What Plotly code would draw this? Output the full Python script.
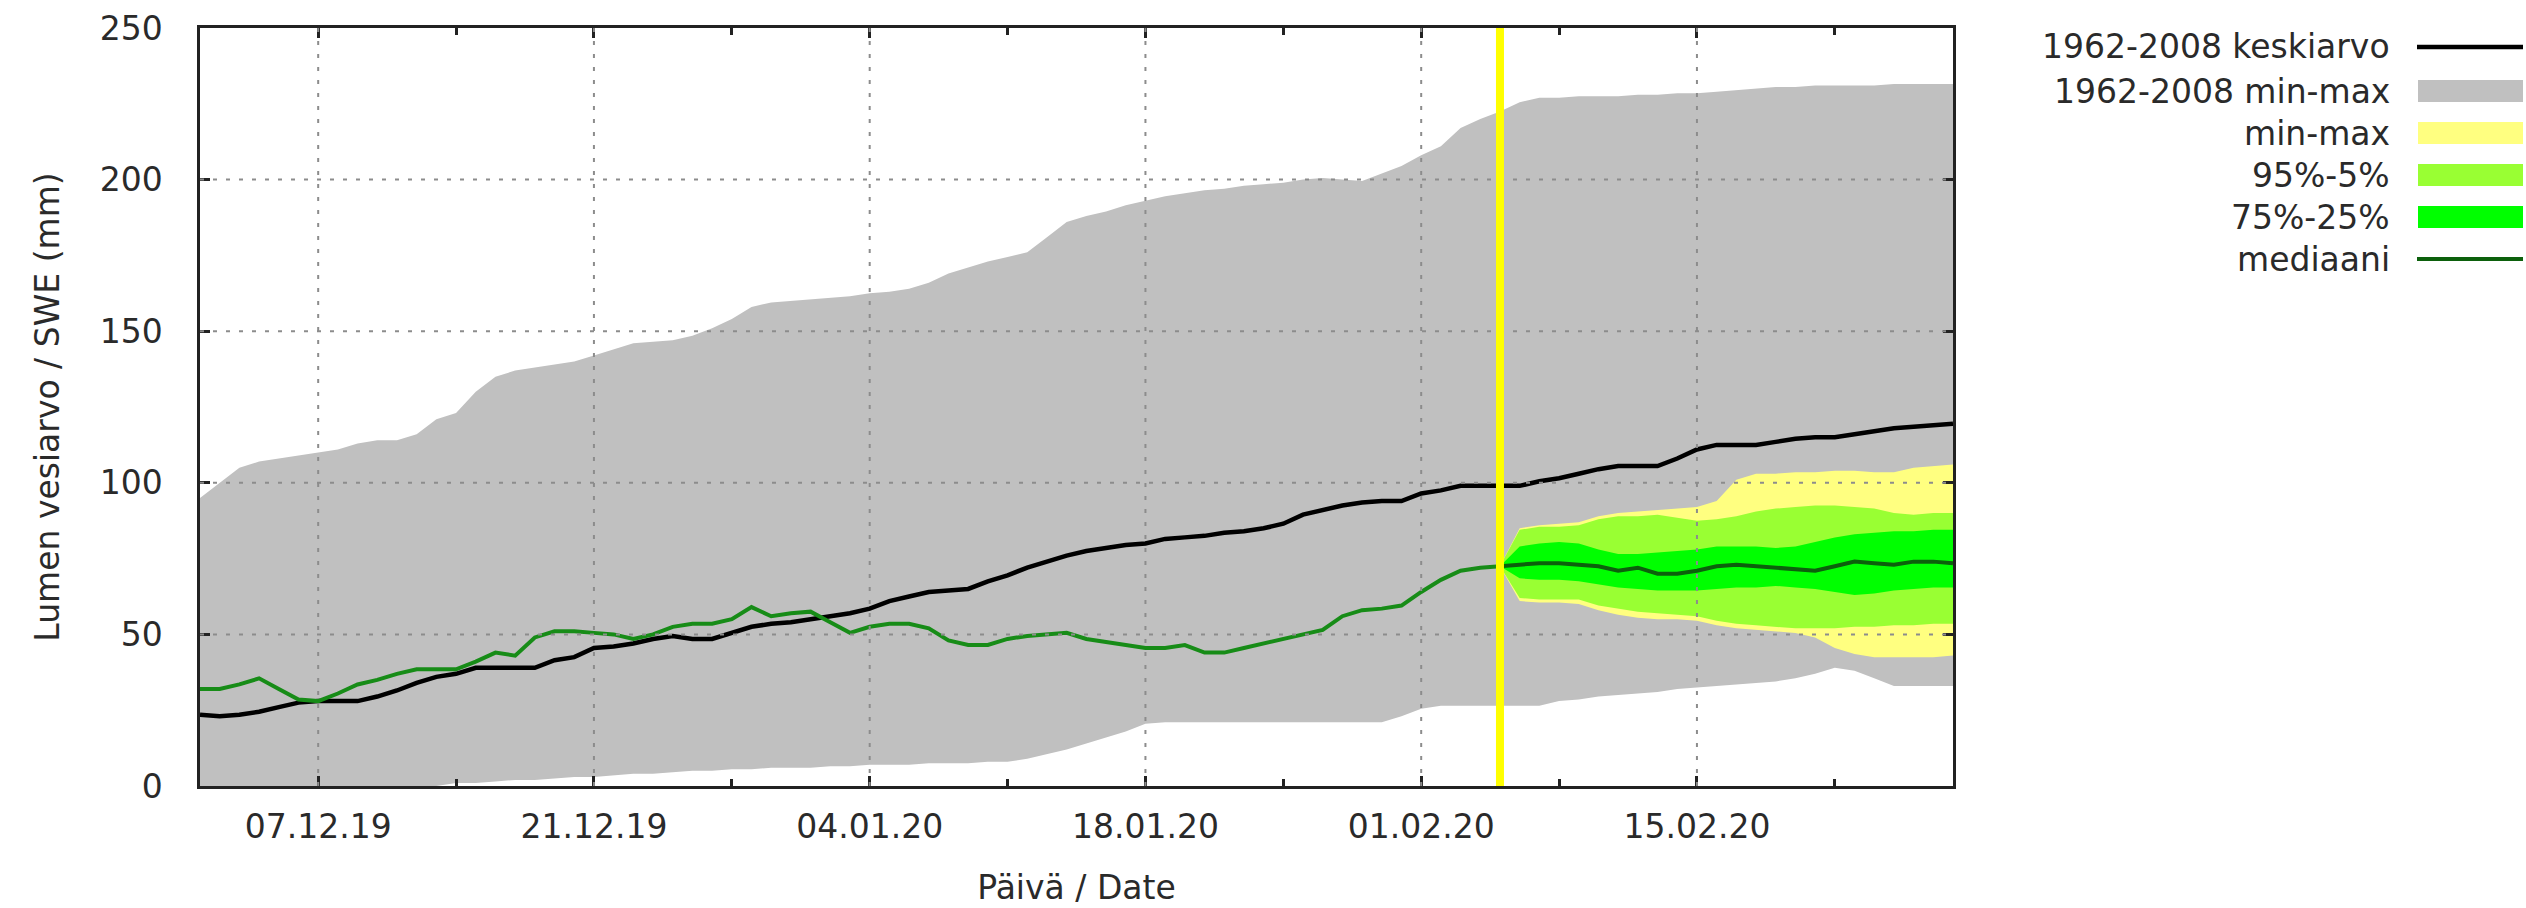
import pandas as pd
import plotly.graph_objects as go

# ---------------- data ----------------
start_date = "2019-12-01"
end_date = "2020-02-28"
forecast_start = "2020-02-05"

dates = pd.date_range(start_date, end_date, freq="D")
obs_dates = pd.date_range(start_date, forecast_start, freq="D")
fc_dates = pd.date_range(forecast_start, end_date, freq="D")

# 1962-2008 climatology (daily, 01.12 - 28.02)
clim_max = [95, 100, 105, 107, 108, 109, 110, 111, 113, 114, 114, 116, 121, 123, 130, 135, 137, 138, 139, 140, 142, 144, 146,
            146.5, 147, 148.5, 151, 154, 158, 159.5, 160, 160.5, 161, 161.5, 162.5, 163, 164, 166, 169, 171, 173, 174.5, 176, 181, 186, 188,
            189.5, 191.5, 193, 194.5, 195.5, 196.5, 197, 198, 198.5, 199, 200, 200.5, 200, 199.5, 202, 204.5, 208, 211, 217, 220, 222.5,
            225.5, 227, 227, 227.5, 227.5, 227.5, 228, 228, 228.5, 228.5, 229, 229.5, 230, 230.5, 230.5, 231, 231, 231, 231, 231.5, 231.5, 231.5, 231.5]
clim_min = [0, 0, 0, 0, 0, 0, 0, 0, 0, 0, 0, 0, 0, 1, 1, 1.5, 2, 2, 2.5, 3, 3, 3.5, 4,
            4, 4.5, 5, 5, 5.5, 5.5, 6, 6, 6, 6.5, 6.5, 7, 7, 7, 7.5, 7.5, 7.5, 8, 8, 9, 10.5, 12, 14,
            16, 18, 20.5, 21, 21, 21, 21, 21, 21, 21, 21, 21, 21, 21, 21, 23, 25.5, 26.5, 26.5, 26.5, 26.5,
            26.5, 26.5, 28, 28.5, 29.5, 30, 30.5, 31, 32, 32.5, 33, 33.5, 34, 34.5, 35.5, 37, 39, 38, 35.5, 33, 33, 33, 33]
clim_mean = [23.5, 23, 23.5, 24.5, 26, 27.5, 28, 28, 28, 29.5, 31.5, 34, 36, 37, 39, 39, 39, 39, 41.5, 42.5, 45.5, 46, 47,
             48.5, 49.5, 48.5, 48.5, 50.5, 52.5, 53.5, 54, 55, 56, 57, 58.5, 61, 62.5, 64, 64.5, 65, 67.5, 69.5, 72, 74, 76, 77.5,
             78.5, 79.5, 80, 81.5, 82, 82.5, 83.5, 84, 85, 86.5, 89.5, 91, 92.5, 93.5, 94, 94, 96.5, 97.5, 99, 99, 99,
             99, 100.5, 101.5, 103, 104.5, 105.5, 105.5, 105.5, 108, 111, 112.5, 112.5, 112.5, 113.5, 114.5, 115, 115, 116, 117, 118, 118.5, 119, 119.5]

# median until the forecast start (01.12 - 05.02)
median_obs = [32, 32, 33.5, 35.5, 32, 28.5, 28, 30.5, 33.5, 35, 37, 38.5, 38.5, 38.5, 41, 44, 43, 49, 51, 51, 50.5, 50, 48.5,
              50, 52.5, 53.5, 53.5, 55, 59, 56, 57, 57.5, 54, 50.5, 52.5, 53.5, 53.5, 52, 48, 46.5, 46.5, 48.5, 49.5, 50, 50.5, 48.5,
              47.5, 46.5, 45.5, 45.5, 46.5, 44, 44, 45.5, 47, 48.5, 50, 51.5, 56, 58, 58.5, 59.5, 64, 68, 71, 72, 72.5]

# forecast distribution (05.02 - 28.02)
fc_min = [72.5, 61, 60.5, 60.5, 60, 58, 56.5, 55.5, 55, 55, 54.5, 53, 52, 51.5, 51, 50.5, 49, 45.5, 43.5, 42.5, 42.5, 42.5, 42.5, 43]
fc_p5 = [72.5, 62, 61.5, 61.5, 61.5, 59.5, 58.5, 57.5, 57, 56.5, 56, 54.5, 53.5, 53, 52.5, 52, 52, 52, 52.5, 52.5, 53, 53, 53.5, 53.5]
fc_p25 = [72.5, 68.5, 68, 68, 67.5, 66.5, 65.5, 65, 64.5, 64.5, 64.5, 65, 65.5, 65.5, 66, 65.5, 65, 64, 63, 63.5, 64.5, 65, 65.5, 65.5]
fc_median = [72.5, 73, 73.5, 73.5, 73, 72.5, 71, 72, 70, 70, 71, 72.5, 73, 72.5, 72, 71.5, 71, 72.5, 74, 73.5, 73, 74, 74, 73.5]
fc_p75 = [72.5, 79, 80, 80.5, 80, 78, 76.5, 76.5, 77, 77.5, 78, 79, 79, 79, 78.5, 79, 80.5, 82, 83, 83.5, 84, 84, 84.5, 84.5]
fc_p95 = [72.5, 84.5, 85.5, 85.5, 86, 88, 89, 89, 89.5, 88.5, 87.5, 88, 89, 90.5, 91.5, 92, 92.5, 92.5, 92, 91.5, 90, 89.5, 90, 90]
fc_max = [72.5, 85, 86, 86.5, 87, 89, 90, 90.5, 91, 91.5, 92, 94, 101, 103, 103, 103.5, 103.5, 104, 104, 103.5, 103.5, 105, 105.5, 106]

x_tick_vals = ["2019-12-07", "2019-12-21", "2020-01-04", "2020-01-18", "2020-02-01", "2020-02-15"]
y_tick_vals = [0, 50, 100, 150, 200, 250]

legend_labels = ["1962-2008 keskiarvo", "1962-2008 min-max", "min-max", "95%-5%", "75%-25%", "mediaani"]

# ---------------- style ----------------
FONT = "DejaVu Sans"
TXT = "#2a2a2a"
GRAY = "#c0c0c0"
YELLOW = "#ffff80"
LGREEN = "#99ff33"
GREEN = "#00ff00"
MED_OBS = "#178c17"
MED_FC = "#0c600c"
MEAN_C = "#000000"
FS = 33

fig = go.Figure()

def band(x, lo, hi, color, name):
    fig.add_trace(go.Scatter(x=x, y=lo, mode="lines", line=dict(width=0, color=color),
                             showlegend=False, hoverinfo="skip"))
    fig.add_trace(go.Scatter(x=x, y=hi, mode="lines", line=dict(width=0, color=color),
                             fill="tonexty", fillcolor=color, name=name, showlegend=False))

band(dates, clim_min, clim_max, GRAY, legend_labels[1])
fig.add_trace(go.Scatter(x=dates, y=clim_mean, mode="lines", line=dict(color=MEAN_C, width=4.5),
                         name=legend_labels[0], showlegend=False))
band(fc_dates, fc_min, fc_max, YELLOW, legend_labels[2])
band(fc_dates, fc_p5, fc_p95, LGREEN, legend_labels[3])
band(fc_dates, fc_p25, fc_p75, GREEN, legend_labels[4])
fig.add_trace(go.Scatter(x=obs_dates, y=median_obs, mode="lines", line=dict(color=MED_OBS, width=4),
                         name=legend_labels[5], showlegend=False))
fig.add_trace(go.Scatter(x=fc_dates, y=fc_median, mode="lines", line=dict(color=MED_FC, width=4),
                         name=legend_labels[5], showlegend=False))

# ---------------- layout geometry (pixels) ----------------
W, H = 2526, 908
L, R, T, B = 200, 573, 28, 122
pw, ph = W - L - R, H - T - B

def px_x(px):
    return (px - L) / pw

def px_y(py):
    return (H - B - py) / ph

shapes = []
grid_style = dict(color="#8c8c8c", width=2, dash="4px,9px")
for xv in x_tick_vals:
    shapes.append(dict(type="line", xref="x", yref="paper", x0=xv, x1=xv, y0=0, y1=1,
                       line=grid_style, layer="above"))
for yv in y_tick_vals[1:-1]:
    shapes.append(dict(type="line", xref="paper", yref="y", x0=0, x1=1, y0=yv, y1=yv,
                       line=grid_style, layer="above"))
# forecast start marker
shapes.append(dict(type="line", xref="x", yref="paper", x0=forecast_start, x1=forecast_start,
                   y0=0, y1=1, line=dict(color="#ffff00", width=8), layer="above"))

# gnuplot-style legend (text right-aligned, sample on the right)
legend_kinds = [("line", MEAN_C, 4.5), ("rect", GRAY, 0), ("rect", YELLOW, 0),
                ("rect", LGREEN, 0), ("rect", GREEN, 0), ("line", MED_FC, 4)]
row_y = [47, 91, 133, 175, 217, 259]
annotations = []
for lab, (kind, col, lw), ry in zip(legend_labels, legend_kinds, row_y):
    annotations.append(dict(text=lab, xref="paper", yref="paper", x=px_x(2392), y=px_y(ry),
                            xanchor="right", yanchor="middle", showarrow=False,
                            font=dict(family=FONT, size=FS, color=TXT)))
    if kind == "line":
        shapes.append(dict(type="line", xref="paper", yref="paper", x0=px_x(2417), x1=px_x(2523),
                           y0=px_y(ry), y1=px_y(ry), line=dict(color=col, width=lw)))
    else:
        shapes.append(dict(type="rect", xref="paper", yref="paper", x0=px_x(2418), x1=px_x(2523),
                           y0=px_y(ry + 11), y1=px_y(ry - 11), line=dict(width=0), fillcolor=col))

axis_common = dict(showline=True, linecolor="#222222", linewidth=2.5, mirror="ticks",
                   ticks="inside", tickcolor="#222222", tickwidth=2.5, ticklen=10,
                   showgrid=False, zeroline=False,
                   tickfont=dict(family=FONT, size=FS, color=TXT))

fig.update_layout(
    width=W, height=H,
    margin=dict(l=L, r=R, t=T, b=B, autoexpand=False),
    paper_bgcolor="white", plot_bgcolor="white",
    showlegend=False,
    shapes=shapes, annotations=annotations,
    xaxis=dict(axis_common, type="date", range=[start_date, end_date],
               tickmode="array", tickvals=x_tick_vals, tickformat="%d.%m.%y",
               ticklabelstandoff=10,
               minor=dict(ticks="inside", ticklen=7, tickwidth=2.5, tickcolor="#222222",
                          tick0="2019-12-14", dtick=14 * 86400000, showgrid=False),
               title=dict(text="Päivä / Date", standoff=31,
                          font=dict(family=FONT, size=FS, color=TXT))),
    yaxis=dict(axis_common, range=[0, 250], tickmode="array", tickvals=y_tick_vals,
               ticklabelstandoff=28,
               title=dict(text="Lumen vesiarvo / SWE (mm)", standoff=31,
                          font=dict(family=FONT, size=FS, color=TXT))),
)

fig.write_html("out.html", config={"displayModeBar": False},
               post_script="document.body.style.margin='0';")
